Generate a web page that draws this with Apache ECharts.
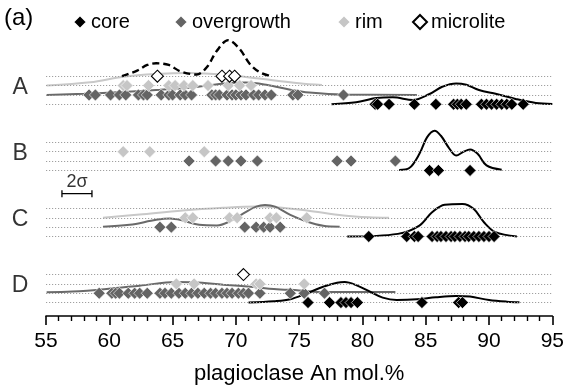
<!DOCTYPE html>
<html><head><meta charset="utf-8">
<script src="https://cdn.jsdelivr.net/npm/echarts@6/dist/echarts.min.js"></script>
<style>html,body{margin:0;padding:0;background:#fff}#c{width:567px;height:390px}</style>
</head><body><div id="c"></div>
<script>
// ---------- data ----------
const groups = ['A', 'B', 'C', 'D'];
const xTicks = [55, 60, 65, 70, 75, 80, 85, 90, 95];

const coreA = [81.0, 81.2, 82.1, 84.1, 85.8, 87.2, 87.5, 87.8, 88.2, 89.4, 89.8, 90.2, 90.6, 91.0, 91.4, 91.8, 92.7];
const overgrowthA = [58.4, 58.9, 60.1, 60.8, 61.3, 62.3, 62.7, 63.0, 64.1, 64.7, 65.0, 65.6, 66.0, 66.5, 68.1, 68.4, 68.7, 69.3, 69.7, 70.0, 70.4, 70.8, 71.4, 71.8, 72.3, 72.8, 74.5, 74.9, 78.5];
const rimA = [61.1, 61.4, 63.1, 64.7, 65.2, 65.9, 66.6, 67.8, 69.4, 70.3, 71.2];
const microliteA = [63.8, 68.9, 69.5, 69.9];

const coreB = [85.3, 86.0, 88.5];
const overgrowthB = [66.3, 68.4, 69.4, 70.4, 71.7, 78.0, 79.1, 82.6];
const rimB = [61.1, 63.2, 67.5];
const microliteB = [];

const coreC = [80.5, 83.5, 84.1, 84.4, 85.5, 85.9, 86.2, 86.6, 87.0, 87.3, 87.7, 88.1, 88.4, 88.8, 89.2, 89.6, 90.0, 90.4];
const overgrowthC = [64.0, 64.9, 70.7, 71.6, 72.2, 72.7, 73.5];
const rimC = [66.0, 66.6, 69.5, 70.1, 72.7, 73.2, 75.6];
const microliteC = [];

const coreD = [75.7, 77.4, 78.3, 78.7, 79.1, 79.6, 84.7, 87.6, 87.9];
const overgrowthD = [59.2, 60.2, 60.5, 60.8, 61.5, 62.0, 62.4, 63.0, 64.0, 64.4, 64.9, 65.5, 66.0, 66.5, 67.0, 67.5, 68.0, 68.4, 68.9, 69.3, 69.7, 70.2, 70.6, 71.0, 71.9, 74.3, 75.4, 77.0];
const rimD = [65.3, 66.7, 71.6, 71.9, 75.4];
const microliteD = [70.6];

// density curves: [An, height above the row line (in row-line spacings)]
const curveMicroliteA = [[61.0,0],[62.2,0.6],[63.0,1.2],[63.7,1.38],[64.7,1.2],[65.6,0.53],[66.9,0.18],[67.7,0.95],[68.5,2.72],[69.4,3.85],[70.3,2.9],[71.1,1.31],[71.9,0.42],[72.8,0]];
const curveRimA = [[55.05,0],[58.5,0.35],[61.1,0.95],[63.7,1.24],[66.4,1.34],[69.0,1.17],[71.6,0.78],[75.0,0.25],[76.8,0.05]];
const curveOvergrowthA = [[55.05,0],[58,0.12],[61,0.3],[64,0.55],[66.7,0.82],[68.9,1.2],[70.8,1.32],[72.5,1.05],[74.3,0.55],[75.8,0.25],[78.5,0.03],[84.3,0]];
const curveCoreA = [[77.55,0],[79.5,0.21],[81.1,0.67],[82.4,0.74],[84.0,0.46],[85.3,1.1],[86.3,1.87],[87.4,2.23],[88.2,2.08],[89.2,1.52],[90.6,1.1],[92.1,0.57],[93.7,0.14],[95.0,0.04]];
const curveCoreB = [[82.9,0.05],[83.7,0.25],[84.5,1.77],[85.1,3.53],[85.7,4.24],[86.2,3.7],[86.8,2.47],[87.4,1.59],[88.0,2.0],[88.5,2.23],[89.1,1.77],[89.8,0.53],[91.0,0.07]];
const curveRimC = [[59.5,0],[62.4,0.35],[65.8,0.78],[69.0,1.06],[71.6,1.2],[73.2,1.13],[75.6,0.78],[78.5,0.25],[80.5,0.05],[82.1,0]];
const curveOvergrowthC = [[59.5,0.05],[61.6,0.25],[63.7,0.78],[64.8,0.92],[65.8,0.71],[67.1,0.25],[68.5,0.18],[69.5,0.6],[70.6,1.48],[71.6,2.19],[72.3,2.37],[73.1,2.19],[74.3,1.31],[75.6,0.6],[76.9,0.14],[78.2,0.04]];
const curveCoreC = [[78.8,0],[82.8,0.28],[84.5,1.17],[85.5,2.58],[86.5,3.39],[87.9,3.46],[88.8,2.93],[89.6,1.52],[90.5,0.46],[92.2,0]];
const curveOvergrowthD = [[55.05,0.1],[57.1,0.18],[59.8,0.46],[62.4,0.81],[65.3,1.2],[66.7,1.17],[69.0,0.92],[71.4,0.67],[73.0,0.46],[75.0,0.3],[77.0,0.12],[82.6,0.12]];
const curveCoreD = [[71.0,0],[73.0,0.14],[74.3,0.35],[75.6,0.99],[76.9,1.7],[78.0,2.12],[78.6,2.19],[79.5,1.87],[80.6,1.17],[81.6,0.53],[82.7,0.28],[84.3,0.35],[85.8,0.57],[87.4,0.71],[88.5,0.64],[90.0,0.28],[91.4,0.1],[92.4,0.04]];

const twoSigma = [56.26, 58.63];

// ---------- layout ----------
const ROW = 7.063;
const LEVEL = { microlite: 0, rim: 1, overgrowth: 2, core: 3 };
const FONT = 'Liberation Sans, Arial, Helvetica, sans-serif';
const COL = { core: '#000000', overgrowth: '#646464', rim: '#c6c6c6', microlite: '#ffffff' };
const LINECOL = { core: '#000000', overgrowth: '#6a6a6a', rim: '#c8c8c8', microlite: '#000000' };

const pts = {
  core: [coreA, coreB, coreC, coreD],
  overgrowth: [overgrowthA, overgrowthB, overgrowthC, overgrowthD],
  rim: [rimA, rimB, rimC, rimD],
  microlite: [microliteA, microliteB, microliteC, microliteD]
};
const curves = [
  ['microlite', 0, curveMicroliteA], ['rim', 0, curveRimA], ['overgrowth', 0, curveOvergrowthA], ['core', 0, curveCoreA],
  ['core', 1, curveCoreB],
  ['rim', 2, curveRimC], ['overgrowth', 2, curveOvergrowthC], ['core', 2, curveCoreC],
  ['overgrowth', 3, curveOvergrowthD], ['core', 3, curveCoreD]
];

const series = [];
// dotted row lines
const rowLines = [];
groups.forEach((g, gi) => Object.values(LEVEL).forEach(l => rowLines.push({ yAxis: gi * ROW + l })));
series.push({
  type: 'line', data: [], z: 0, silent: true,
  markLine: { silent: true, symbol: ['none', 'none'], label: { show: false },
    lineStyle: { type: [1.2, 1.8], color: '#a0a0a0', width: 1 }, data: rowLines }
});
// curves
curves.forEach(([type, gi, arr]) => {
  const base = gi * ROW + LEVEL[type];
  series.push({
    type: 'line', silent: true, showSymbol: false, smooth: 0.35,
    z: type === 'microlite' ? 3 : 2,
    lineStyle: { color: LINECOL[type], width: type === 'microlite' ? 2.4 : 2,
      type: type === 'microlite' ? [7, 4] : 'solid' },
    data: arr.map(p => [p[0], base - p[1]])
  });
});
// points
['core', 'overgrowth', 'rim', 'microlite'].forEach(type => {
  const data = [];
  pts[type].forEach((arr, gi) => arr.forEach(v => data.push([v, gi * ROW + LEVEL[type]])));
  series.push({
    name: type, type: 'scatter', symbol: 'diamond', symbolSize: 12, z: 5,
    itemStyle: type === 'microlite'
      ? { color: '#ffffff', borderColor: '#000', borderWidth: 1.1, opacity: 1 }
      : { color: COL[type], borderColor: '#ffffff', borderWidth: 0.6, opacity: 1 },
    data
  });
});
// group labels
series.push({
  type: 'scatter', silent: true, clip: false, symbolSize: 1, z: 6,
  itemStyle: { color: 'rgba(0,0,0,0)' },
  label: { show: true, position: 'inside', formatter: p => p.name, fontSize: 23, color: '#000', fontFamily: FONT },
  data: groups.map((g, gi) => ({ name: g, value: [52.95, gi * ROW + 1.23] }))
});
// 2 sigma scale bar
series.push({
  type: 'line', silent: true, z: 6, symbol: 'rect', symbolSize: [1.3, 7], showSymbol: true,
  itemStyle: { color: '#000' }, lineStyle: { color: '#000', width: 1.3 },
  data: [[twoSigma[0], 2 * ROW - 1.58], [twoSigma[1], 2 * ROW - 1.58]]
});
series.push({
  type: 'scatter', silent: true, symbolSize: 1, z: 6, itemStyle: { color: 'rgba(0,0,0,0)' },
  label: { show: true, position: 'inside', formatter: '2σ', fontSize: 18, color: '#000', fontFamily: FONT },
  data: [{ name: '2σ', value: [(twoSigma[0] + twoSigma[1]) / 2, 2 * ROW - 2.8] }]
});

const legendBase = { top: 7, itemWidth: 14, itemHeight: 14, itemGap: 0,
  textStyle: { fontSize: 20, color: '#000', fontFamily: FONT, padding: [0, 0, 0, -1] } };
const option = {
  animation: false,
  backgroundColor: '#fff',
  textStyle: { fontFamily: FONT },
  grid: { left: 46, right: 14.3, top: 12, bottom: 71.7, containLabel: false },
  graphic: [{ type: 'text', left: 4, top: 6, style: { text: '(a)', fontSize: 24, fill: '#000', fontFamily: FONT } }],
  legend: [
    Object.assign({}, legendBase, { data: ['core'], left: 67 }),
    Object.assign({}, legendBase, { data: ['overgrowth'], left: 168 }),
    Object.assign({}, legendBase, { data: ['rim'], left: 331 }),
    Object.assign({}, legendBase, { data: ['microlite'], left: 407 })
  ],
  xAxis: {
    type: 'value', min: xTicks[0], max: xTicks[xTicks.length - 1], interval: 5,
    name: 'plagioclase An mol.%', nameLocation: 'middle', nameGap: 47,
    nameTextStyle: { fontSize: 22, color: '#000', fontFamily: FONT },
    axisLine: { onZero: false, lineStyle: { color: '#000', width: 1.6 } },
    axisTick: { show: true, length: 9, lineStyle: { color: '#000', width: 1.6 } },
    minorTick: { show: true, splitNumber: 5, length: 5, lineStyle: { color: '#000', width: 1.4 } },
    axisLabel: { fontSize: 21, color: '#000', margin: 15, fontFamily: FONT },
    splitLine: { show: false }, minorSplitLine: { show: false }
  },
  yAxis: { type: 'value', inverse: true, min: -6.86, max: 25.62, show: false, splitLine: { show: false } },
  series
};
const chart = echarts.init(document.getElementById('c'), null, { renderer: 'canvas' });
chart.setOption(option);
</script></body></html>
